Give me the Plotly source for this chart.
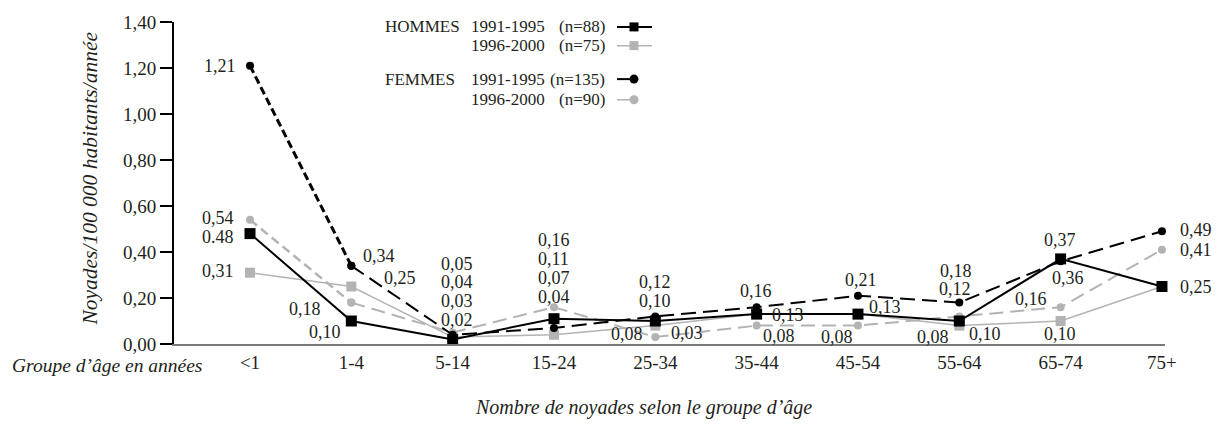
import plotly.graph_objects as go

# age groups and rates (drownings / 100 000 inhabitants / year)
age_groups = ["<1", "1-4", "5-14", "15-24", "25-34", "35-44", "45-54", "55-64", "65-74", "75+"]
hommes_1991 = [0.48, 0.10, 0.02, 0.11, 0.10, 0.13, 0.13, 0.10, 0.37, 0.25]
hommes_1996 = [0.31, 0.25, 0.03, 0.04, 0.08, 0.13, 0.13, 0.08, 0.10, 0.25]
femmes_1991 = [1.21, 0.34, 0.04, 0.07, 0.12, 0.16, 0.21, 0.18, 0.36, 0.49]
femmes_1996 = [0.54, 0.18, 0.05, 0.16, 0.03, 0.08, 0.08, 0.12, 0.16, 0.41]
y_ticks = [0, 0.2, 0.4, 0.6, 0.8, 1.0, 1.2, 1.4]

FONT = "Liberation Serif"
INK = "#231f20"
GRAY = "#b3b3b3"

# plot area in pixels (used to place the hand-made legend and titles)
L, R, T, B = 174, 1165, 17, 344


def px(x, y):
    return (x - L) / (R - L), (B - y) / (B - T)


# label offsets (dx, dy) in pixels per point; None = no label
off_h91 = [(-32, -3.5), (-26, -11), (4, 19), (0, 59.5), (0, 20), None, None, (26, -13), (-1, 19), None]
off_h96 = [(-32, 2), (49, 9), (4, 36), (0, 38), (-28, -8), (31, -1), (27, 7), (-26, -11), (-1, -13), (34, 0)]
off_f91 = [(-30, 0), (28, 10), (4, 53), (0, 50), (0, 34.5), (-1, 16), (3, 16), (-3, 32), (7, -17), (34, 1)]
off_f96 = [(-32, 1.5), (-46, -6), (4, 69), (0, 67), (32, 4), (22, -10), (-21, -11), (-4, 27), (-30, 8), (34, 0)]

fig = go.Figure()


def add_series(vals, line, marker, first_seg=None):
    if first_seg is None:
        fig.add_trace(go.Scatter(x=age_groups, y=vals, mode="lines+markers", line=line,
                                 marker=marker, cliponaxis=False, showlegend=False))
        return
    # the steep first segment is printed with a shorter, heavier dash
    fig.add_trace(go.Scatter(x=age_groups[:2], y=vals[:2], mode="lines+markers", line=first_seg,
                             marker=marker, cliponaxis=False, showlegend=False))
    fig.add_trace(go.Scatter(x=age_groups[1:], y=vals[1:], mode="lines+markers", line=line,
                             marker=marker, cliponaxis=False, showlegend=False))


add_series(hommes_1996, dict(color=GRAY, width=1.5), dict(symbol="square", size=10, color=GRAY))
add_series(femmes_1996, dict(color=GRAY, width=2, dash="14px,7px"), dict(symbol="circle", size=8, color=GRAY),
           first_seg=dict(color=GRAY, width=2.5, dash="9px,5px"))
add_series(femmes_1991, dict(color="black", width=2, dash="15px,7px"), dict(symbol="circle", size=8, color="black"),
           first_seg=dict(color="black", width=3, dash="8px,4px"))
add_series(hommes_1991, dict(color="black", width=2), dict(symbol="square", size=11, color="black"))

annotations = []
for key, vals, offs in [("h91", hommes_1991, off_h91), ("h96", hommes_1996, off_h96),
                        ("f91", femmes_1991, off_f91), ("f96", femmes_1996, off_f96)]:
    for cat, v, o in zip(age_groups, vals, offs):
        if o is None:
            continue
        txt = f"{v:.2f}".replace(".", ",")
        if key == "h91" and cat == "<1":
            txt = f"{v:.2f}"  # printed with a point in the original
        annotations.append(dict(
            x=cat, y=v, xref="x", yref="y", text=txt, showarrow=False,
            xanchor="center", yanchor="middle", xshift=o[0], yshift=o[1],
            font=dict(family=FONT, size=18, color=INK),
        ))

# hand-made legend: text on the left, key on the right
legend_rows = [
    ("HOMMES", "1991-1995", "(n=88)", "black", "square", 22),
    ("", "1996-2000", "(n=75)", GRAY, "square", 41),
    ("FEMMES", "1991-1995", "(n=135)", "black", "circle", 75),
    ("", "1996-2000", "(n=90)", GRAY, "circle", 96),
]
shapes = []
lfont = dict(family=FONT, size=17, color=INK)
for sex, period, n, col, sym, yy in legend_rows:
    for txt, xx, anchor in [(sex, 383, "left"), (period, 469, "left"), (n, 607, "right")]:
        if not txt:
            continue
        ax, ay = px(xx, yy)
        annotations.append(dict(x=ax, y=ay, xref="paper", yref="paper", text=txt, showarrow=False,
                                xanchor=anchor, yanchor="middle", font=lfont))
    x_end = 652 if sym == "square" else 634
    x0, y0 = px(617, yy)
    x1, _ = px(x_end, yy)
    xc, _ = px(634, yy)
    w = 2 if col == "black" else 1.5
    shapes.append(dict(type="line", xref="paper", yref="paper", x0=x0, x1=x1, y0=y0, y1=y0,
                       line=dict(color=col, width=w)))
    shapes.append(dict(type="rect" if sym == "square" else "circle", xref="paper", yref="paper",
                       xsizemode="pixel", ysizemode="pixel", xanchor=xc, yanchor=y0,
                       x0=-4.5, x1=4.5, y0=-4.5, y1=4.5, fillcolor=col, line=dict(width=0)))

# axis titles
tx, ty = px(90, 176)
annotations.append(dict(x=tx, y=ty, xref="paper", yref="paper", text="Noyades/100 000 habitants/année",
                        textangle=-90, showarrow=False, xanchor="center", yanchor="middle",
                        font=dict(family=FONT, size=21.5, color=INK, style="italic")))
tx, ty = px(10, 366)
annotations.append(dict(x=tx, y=ty, xref="paper", yref="paper", text="Groupe d’âge en années",
                        showarrow=False, xanchor="left", yanchor="middle",
                        font=dict(family=FONT, size=19.5, color=INK, style="italic")))
tx, ty = px(643, 408)
annotations.append(dict(x=tx, y=ty, xref="paper", yref="paper", text="Nombre de noyades selon le groupe d’âge",
                        showarrow=False, xanchor="center", yanchor="middle",
                        font=dict(family=FONT, size=20, color=INK, style="italic")))

fig.update_layout(
    width=1224, height=424,
    margin=dict(l=L, r=1224 - R, t=T, b=424 - B),
    paper_bgcolor="white", plot_bgcolor="white",
    separators=", ",
    font=dict(family=FONT, size=19, color=INK),
    annotations=annotations,
    shapes=shapes,
    xaxis=dict(
        type="category", range=[-0.75, 9.03], showgrid=False, zeroline=False,
        showline=True, linecolor="#7a7a7a", linewidth=1.5, ticks="",
        tickfont=dict(family=FONT, size=19, color=INK),
    ),
    yaxis=dict(
        range=[0, 1.4], tickvals=y_ticks, tickformat=".2f", showgrid=False, zeroline=False,
        showline=True, linecolor="black", linewidth=2, ticks="outside", ticklen=12,
        tickwidth=1.5, tickcolor="black", tickfont=dict(family=FONT, size=19, color=INK),
    ),
)

fig.write_html("out.html", config={"displayModeBar": False},
               post_script="document.body.style.margin='0';")
